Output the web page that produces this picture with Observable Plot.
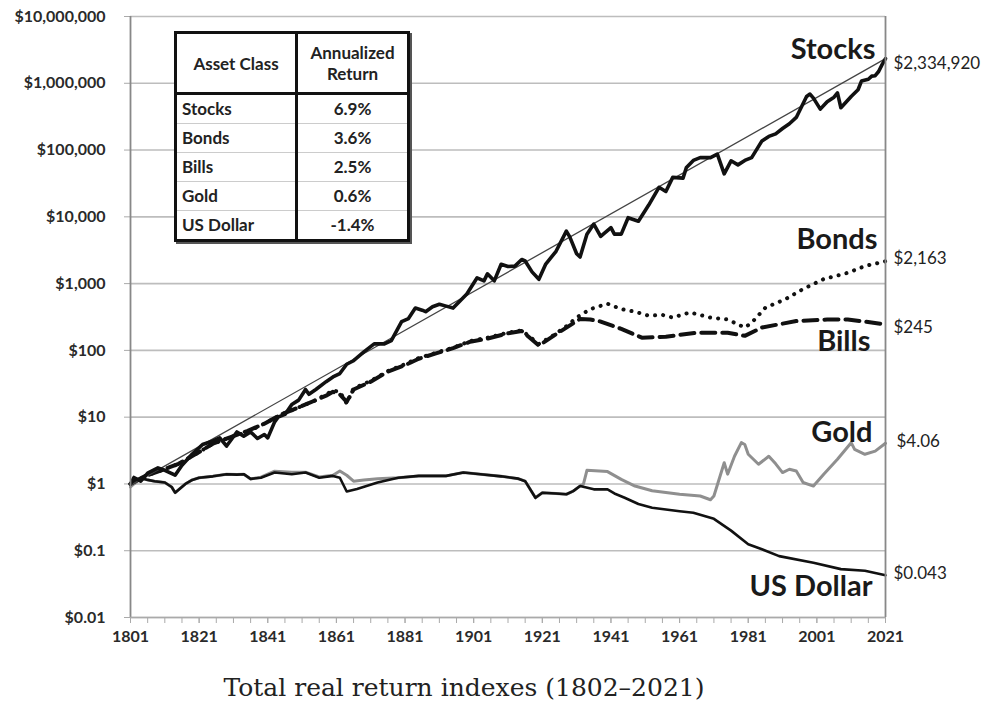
<!DOCTYPE html>
<html><head><meta charset="utf-8">
<script src="https://cdn.jsdelivr.net/npm/d3@7"></script>
<script src="https://cdn.jsdelivr.net/npm/@observablehq/plot@0.6"></script>
<style>
body{margin:0;background:#fff;}
#wrap{position:relative;width:989px;height:712px;overflow:hidden;font-family:Lato,"Open Sans",sans-serif;}
#caption{position:absolute;left:0;top:673px;width:928px;text-align:center;font-family:"DejaVu Serif",serif;font-size:25px;color:#222;white-space:nowrap;}
table.inset{position:absolute;left:174px;top:31px;width:236px;border-collapse:collapse;border:3px solid #111;background:#fff;font-size:17px;font-weight:700;color:#222;box-shadow:2px 2px 0 #555;}
table.inset th{height:58px;border:3px solid #111;font-weight:700;text-align:center;line-height:21px;padding:0;}
table.inset td{height:28px;border-top:1px solid #ccc;padding:0 0 0 5px;line-height:20px;}
table.inset td.v{text-align:center;border-left:3px solid #111;padding:0;}
</style></head>
<body><div id="wrap"><div id="chart"></div><div id="caption"></div></div>
<script>
// ---------- data ----------
const stocks = [[1801,1.0],[1802,1.25],[1804,1.1],[1806,1.45],[1809,1.74],[1811,1.6],[1814,1.35],[1816,1.9],[1819,2.8],[1822,3.9],[1825,4.4],[1827,4.9],[1829,3.7],[1832,6.0],[1834,5.2],[1836,6.0],[1838,4.8],[1840,5.5],[1841,4.9],[1843,8.5],[1844,10],[1846,11],[1848,15.5],[1850,18],[1852,26],[1853,22],[1855,26],[1858,34],[1860,40],[1862,45],[1864,62],[1866,70],[1869,95],[1872,125],[1875,125],[1877,140],[1880,270],[1882,300],[1884,430],[1886,400],[1887,380],[1889,450],[1891,490],[1893,460],[1895,430],[1897,550],[1899,700],[1902,1220],[1904,1100],[1905,1400],[1907,1100],[1909,1950],[1911,1800],[1913,1830],[1915,2300],[1916,2180],[1918,1500],[1920,1160],[1922,1960],[1925,3050],[1928,6100],[1929,5000],[1931,2800],[1932,2500],[1934,5500],[1936,7800],[1938,5100],[1941,6900],[1942,5500],[1944,5500],[1946,9700],[1949,8600],[1952,15000],[1955,27700],[1957,24000],[1959,39000],[1962,38000],[1963,55000],[1965,70000],[1967,77000],[1970,77000],[1972,87000],[1974,44000],[1976,69000],[1978,60000],[1980,70000],[1982,77000],[1985,137000],[1987,160000],[1989,175000],[1991,210000],[1993,248000],[1995,308000],[1998,635000],[1999,690000],[2000,600000],[2002,410000],[2004,530000],[2006,620000],[2007,720000],[2008,430000],[2011,635000],[2013,800000],[2014,1080000],[2016,1150000],[2017,1280000],[2018,1300000],[2019,1500000],[2020,1900000],[2021,2334920]];
const stocksTrend = [[1801,0.95],[2021,2334920]];
const bonds = [[1801,1.0],[1805,1.3],[1810,1.6],[1815,2.0],[1820,2.8],[1825,4.0],[1830,5.0],[1835,6.0],[1840,8.0],[1845,11],[1850,14],[1855,18],[1858,22],[1860,25],[1862,24],[1864,16],[1866,27],[1871,35],[1876,49],[1881,62],[1885,77],[1890,92],[1895,110],[1900,138],[1905,155],[1911,184],[1915,200],[1917,165],[1920,125],[1924,165],[1928,230],[1931,310],[1935,415],[1940,500],[1944,415],[1948,380],[1952,330],[1956,340],[1959,310],[1964,370],[1970,310],[1975,290],[1980,220],[1982,260],[1986,436],[1992,590],[1997,830],[2003,1170],[2010,1450],[2015,1830],[2021,2163]];
const bills = [[1801,1.0],[1805,1.3],[1810,1.6],[1815,2.0],[1820,2.8],[1825,4.0],[1830,5.0],[1835,6.2],[1840,8.0],[1845,11],[1850,14],[1855,18],[1858,21],[1860,24],[1862,22],[1864,17],[1866,26],[1871,34],[1876,48],[1881,60],[1885,75],[1890,90],[1895,108],[1900,135],[1905,150],[1911,180],[1915,195],[1917,160],[1920,118],[1925,175],[1932,295],[1935,290],[1938,270],[1944,210],[1950,155],[1957,160],[1966,184],[1975,184],[1980,165],[1985,220],[1995,275],[2004,290],[2010,290],[2015,270],[2021,245]];
const gold = [[1801,0.9],[1802,1.0],[1804,1.2],[1806,1.15],[1808,1.1],[1811,1.05],[1813,0.9],[1814,0.74],[1817,1.0],[1819,1.15],[1821,1.24],[1825,1.3],[1829,1.4],[1832,1.38],[1834,1.4],[1836,1.19],[1839,1.26],[1843,1.55],[1848,1.5],[1852,1.5],[1856,1.27],[1860,1.35],[1862,1.56],[1864,1.35],[1866,1.1],[1869,1.15],[1873,1.2],[1879,1.24],[1885,1.32],[1893,1.32],[1898,1.48],[1903,1.4],[1909,1.3],[1914,1.2],[1916,1.1],[1919,0.62],[1921,0.74],[1925,0.72],[1928,0.70],[1930,0.78],[1932,0.93],[1933,1.0],[1934,1.6],[1940,1.53],[1944,1.17],[1948,0.93],[1953,0.79],[1961,0.70],[1967,0.66],[1970,0.58],[1971,0.66],[1974,2.08],[1975,1.4],[1977,2.6],[1979,4.15],[1980,3.9],[1981,2.78],[1984,1.97],[1987,2.6],[1989,2.0],[1991,1.48],[1993,1.66],[1995,1.56],[1997,1.05],[2000,0.93],[2003,1.4],[2007,2.34],[2011,4.15],[2012,3.3],[2015,2.78],[2018,3.1],[2021,4.06]];
const usDollar = [[1801,1.0],[1802,1.05],[1804,1.24],[1806,1.15],[1808,1.1],[1811,1.05],[1813,0.9],[1814,0.74],[1817,1.0],[1819,1.15],[1821,1.24],[1825,1.3],[1829,1.4],[1832,1.38],[1834,1.4],[1836,1.19],[1839,1.24],[1843,1.48],[1848,1.4],[1852,1.48],[1856,1.24],[1860,1.32],[1862,1.24],[1864,0.77],[1867,0.84],[1873,1.05],[1879,1.24],[1885,1.32],[1893,1.32],[1898,1.48],[1903,1.4],[1909,1.3],[1914,1.2],[1916,1.1],[1919,0.62],[1921,0.74],[1925,0.72],[1928,0.70],[1930,0.78],[1932,0.93],[1936,0.83],[1940,0.83],[1942,0.72],[1945,0.62],[1949,0.50],[1953,0.44],[1961,0.39],[1965,0.37],[1971,0.30],[1976,0.20],[1981,0.125],[1985,0.105],[1990,0.083],[2000,0.066],[2008,0.053],[2015,0.050],[2021,0.043]];

const seriesNames = ["Stocks","Bonds","Bills","Gold","US Dollar"];
const endLabels = ["$2,334,920","$2,163","$245","$4.06","$0.043"];
const assetClasses = ["Stocks","Bonds","Bills","Gold","US Dollar"];
const annualizedReturns = ["6.9%","3.6%","2.5%","0.6%","-1.4%"];
const yTicks = [0.01,0.1,1,10,100,1000,10000,100000,1000000,10000000];
const yTickLabels = ["$0.01","$0.1","$1","$10","$100","$1,000","$10,000","$100,000","$1,000,000","$10,000,000"];
const xLabelYears = [1801,1821,1841,1861,1881,1901,1921,1941,1961,1981,2001,2021];
const xMinorTicks = d3.range(1801, 2022, 5);
const captionText = "Total real return indexes (1802–2021)";

// ---------- layout / style (not data) ----------
const seriesData = [stocks, bonds, bills, gold, usDollar];
const nameOffsets = [{dx:-10,dy:0},{dx:-8,dy:-12},{dx:-15,dy:27},{dx:-13,dy:-1},{dx:-13,dy:21}];
const valueOffsets = [{dx:8,dy:5},{dx:8,dy:-3},{dx:8,dy:3},{dx:11,dy:-2},{dx:8,dy:-2}];

const X = d => d[0], Y = d => d[1];
const marks = [
  Plot.ruleY(yTicks, {stroke:"#bdbdbd", strokeWidth:1.6}),
  Plot.axisY({ticks: yTicks, tickFormat: d => yTickLabels[yTicks.indexOf(d)], tickSize: 6, tickPadding: 19, fontSize: 16, fontWeight: "bold", fill:"#2a2a2a", stroke:"#aaa", label: null}),
  Plot.axisX({ticks: xMinorTicks, tickFormat: () => "", tickSize: 6, stroke:"#aaa", label: null}),
  Plot.axisX({ticks: xLabelYears, tickFormat: d => String(d), tickSize: 6, tickPadding: 7, fontSize: 16, fontWeight: "bold", fill:"#2a2a2a", stroke:"#aaa", label: null}),
  Plot.line(gold, {x: X, y: Y, stroke:"#8f8f8f", strokeWidth:3}),
  Plot.line(usDollar, {x: X, y: Y, stroke:"#111", strokeWidth:2.6}),
  Plot.line(bills, {x: X, y: Y, stroke:"#111", strokeWidth:4, strokeDasharray:"14,7"}),
  Plot.line(bonds, {x: X, y: Y, stroke:"#111", strokeWidth:4, strokeDasharray:"0.1,8", strokeLinecap:"round"}),
  Plot.line(stocksTrend, {x: X, y: Y, stroke:"#444", strokeWidth:1.3}),
  Plot.line(stocks, {x: X, y: Y, stroke:"#111", strokeWidth:3.6, strokeLinejoin:"round"}),
  Plot.ruleX([1801, 2021], {stroke:"#888", strokeWidth:1.8}),
  Plot.ruleY([0.01], {stroke:"#aaa", strokeWidth:1.6})
];
seriesData.forEach((s, i) => {
  const last = s[s.length - 1];
  marks.push(Plot.text([last], {x: X, y: Y, text: () => seriesNames[i], textAnchor:"end", lineAnchor:"bottom", dx: nameOffsets[i].dx, dy: nameOffsets[i].dy, fontSize: 29, fontWeight:"bold", fill:"#1a1a1a"}));
  marks.push(Plot.text([last], {x: X, y: Y, text: () => endLabels[i], textAnchor:"start", lineAnchor:"middle", dx: valueOffsets[i].dx, dy: valueOffsets[i].dy, fontSize: 17, fill:"#222"}));
});

const chart = Plot.plot({
  width: 989, height: 650,
  marginLeft: 130, marginRight: 104, marginTop: 16, marginBottom: 33,
  style: {fontFamily: "Lato, 'Open Sans', sans-serif", background: "#fff", overflow: "visible"},
  x: {domain: [1801, 2021]},
  y: {type: "log", domain: [0.01, 10000000]},
  marks
});
document.getElementById("chart").appendChild(chart);

// inset table
const tbl = document.createElement("table");
tbl.className = "inset";
let html = '<tr><th style="width:118px">Asset Class</th><th>Annualized<br>Return</th></tr>';
assetClasses.forEach((a, i) => { html += `<tr><td>${a}</td><td class="v">${annualizedReturns[i]}</td></tr>`; });
tbl.innerHTML = html;
document.getElementById("wrap").appendChild(tbl);
document.getElementById("caption").textContent = captionText;
</script></body></html>
